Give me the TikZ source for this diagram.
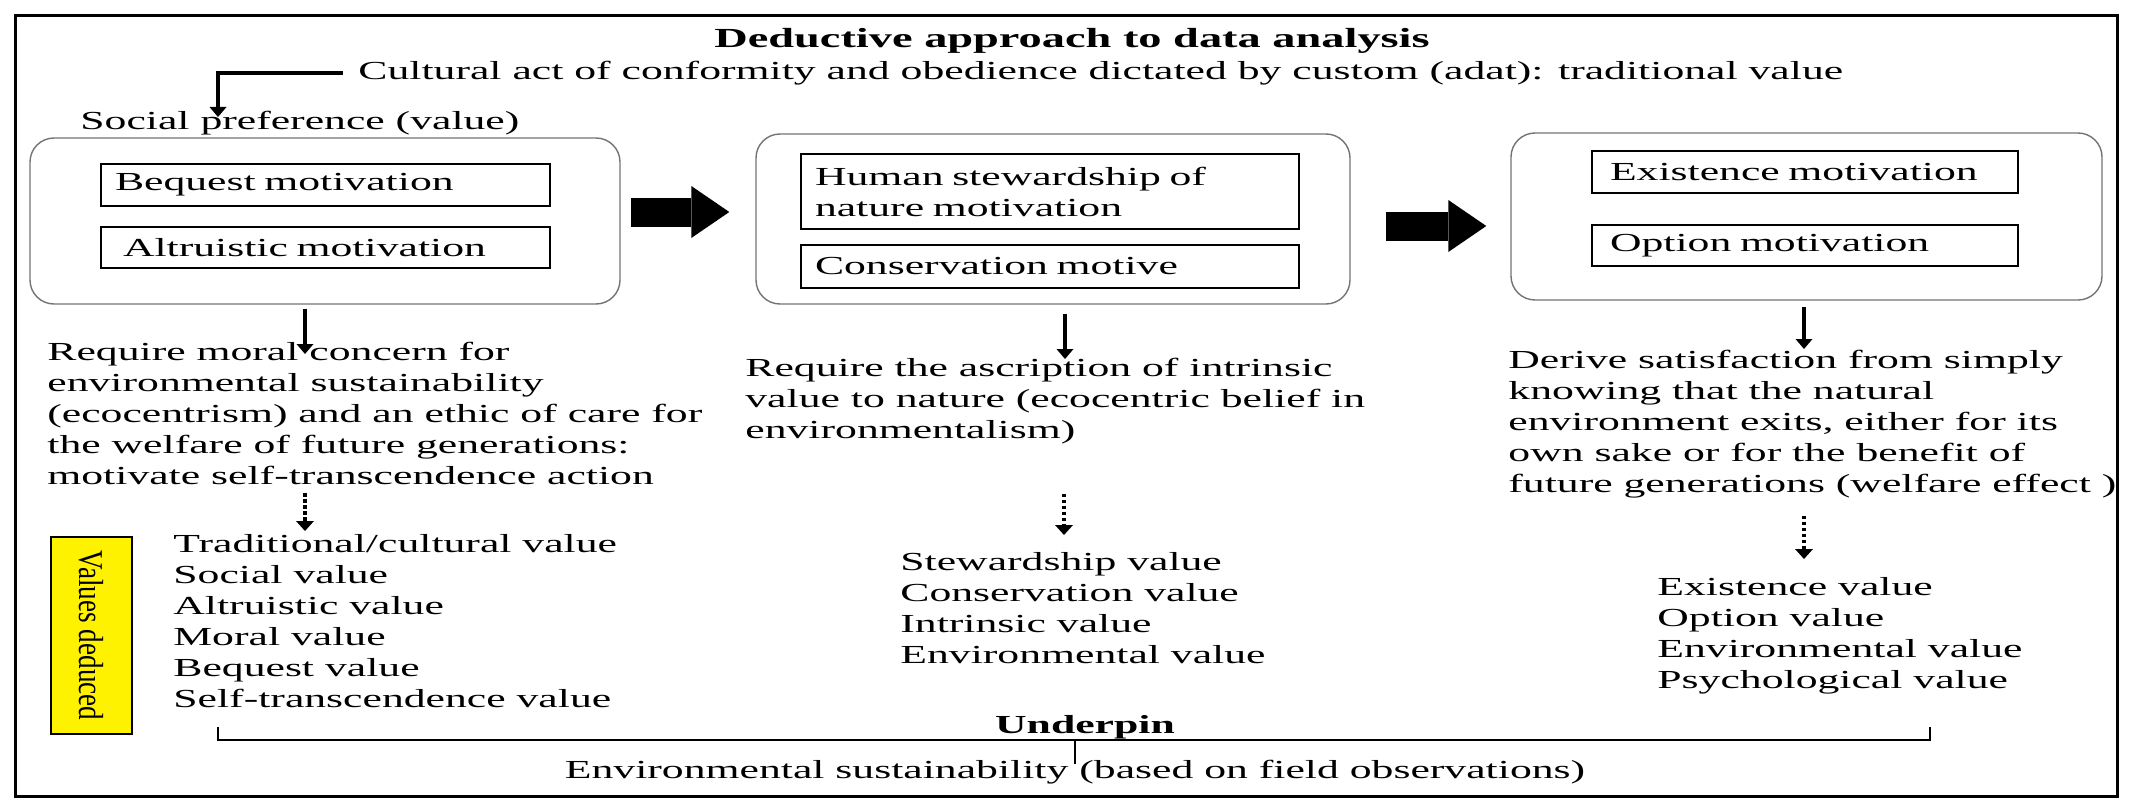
\documentclass[tikz,border=0pt]{standalone}
\usepackage{fontspec}
\setmainfont{Liberation Serif}[FakeStretch=1.68]
\newfontfamily\narrowfont{Liberation Serif}[FakeStretch=0.78]
\usetikzlibrary{arrows.meta}
\newcommand\bodysize{\fontsize{13pt}{15.5pt}\selectfont}

\begin{document}
\begin{tikzpicture}[x=0.5pt,y=-0.5pt,
    every node/.style={font=\bodysize,inner sep=0pt},
    group/.style={draw=black!55,line width=0.7pt,rounded corners=12pt},
    motive/.style={draw,line width=0.6pt,align=left,inner xsep=7pt},
    bigarrow/.style={line width=14.5pt,-{Triangle[length=19pt,width=26pt,line width=0pt]}},
    downarrow/.style={line width=1.6pt,-{Triangle[length=5pt,width=8.5pt,line width=0pt]}},
    dotarrow/.style={line width=2.2pt,dash pattern=on 1.6pt off 1.4pt,-{Triangle[length=5pt,width=9pt,line width=0pt]}},
    textblock/.style={anchor=north west,align=left}]
  \useasboundingbox (0,0) rectangle (2131,808);
  \draw[line width=1.5pt] (15,16) rectangle (2117,796);

  \node[font=\fontsize{13.8pt}{16pt}\selectfont\bfseries] (title) at (1072,41) {Deductive approach to data analysis};
  \node[anchor=west] (cult) at (358,73) {Cultural act of conformity and obedience dictated by custom (adat): traditional value};
  \node[anchor=west] (socpref) at (80,123) {Social preference (value)};
  \coordinate (socin) at (218,117);
  \draw[downarrow] ([xshift=-7.5pt]cult.west) -| (socin);

  % the three groups of motives
  \node[group,minimum width=295pt,minimum height=83pt] (box1) at (325,221) {};
  \node[group,minimum width=297pt,minimum height=85pt] (box2) at (1053,219) {};
  \node[group,minimum width=295.5pt,minimum height=83.5pt] (box3) at (1806.5,216.5) {};
  \node[motive,text width=210.5pt,minimum height=21pt] (beq) at (325.5,185) {Bequest motivation};
  \node[motive,text width=210.5pt,minimum height=20.5pt] (alt) at (325.5,247.5) {\hspace{4pt}Altruistic motivation};
  \node[motive,text width=235pt,minimum height=37.5pt] (hum) at (1050,191.5) {Human stewardship of\\nature motivation};
  \node[motive,text width=235pt,minimum height=21.5pt] (cons) at (1050,266.5) {Conservation motive};
  \node[motive,text width=195pt,inner xsep=9pt,minimum height=21pt] (exi) at (1805,172) {Existence motivation};
  \node[motive,text width=195pt,inner xsep=9pt,minimum height=20.5pt] (opt) at (1805,245.5) {Option motivation};
  \draw[bigarrow] ([xshift=5pt,yshift=4.5pt]box1.east) -- ([xshift=-13pt,yshift=4.5pt]box1.east -| box2.west);
  \draw[bigarrow] ([xshift=17.5pt,yshift=-3.5pt]box2.east) -- ([xshift=-12pt,yshift=-3.5pt]box2.east -| box3.west);

  \node[textblock] (req1) at (47,342) {Require moral concern for\\environmental sustainability\\(ecocentrism) and an ethic of care for\\the welfare of future generations:\\motivate self-transcendence action};
  \node[textblock] (req2) at (745,358) {Require the ascription of intrinsic\\value to nature (ecocentric belief in\\environmentalism)};
  \node[textblock] (req3) at (1508,350) {Derive satisfaction from simply\\knowing that the natural\\environment exits, either for its\\own sake or for the benefit of\\future generations (welfare effect )};
  \coordinate (in1) at (305,354);
  \coordinate (in2) at (1065,359);
  \coordinate (in3) at (1804,349);
  \draw[downarrow] ([yshift=-2pt]box1.south -| in1) -- (in1);
  \draw[downarrow] ([yshift=-4.5pt]box2.south -| in2) -- (in2);
  \draw[downarrow] ([yshift=-3pt]box3.south -| in3) -- (in3);

  \node[textblock] (vals1) at (173,534) {Traditional/cultural value\\Social value\\Altruistic value\\Moral value\\Bequest value\\Self-transcendence value};
  \node[textblock] (vals2) at (900,552) {Stewardship value\\Conservation value\\Intrinsic value\\Environmental value};
  \node[textblock] (vals3) at (1657,577) {Existence value\\Option value\\Environmental value\\Psychological value};
  \coordinate (val1) at (305,531);
  \coordinate (val2) at (1064,535);
  \coordinate (val3) at (1804,559);
  \draw[dotarrow] (req1.south -| val1) ++(0,8) -- (val1);
  \draw[dotarrow] (req2.south -| val2) ++(0,49) -- (val2);
  \draw[dotarrow] (req3.south -| val3) ++(0,17) -- (val3);

  \node[draw,fill=yellow,line width=0.7pt,rotate=-90,minimum width=98.5pt,minimum height=40.5pt,
    font=\narrowfont\fontsize{17.4pt}{20pt}\selectfont] (deduced) at (91.5,635.5) {Values deduced};

  \coordinate (brl) at (218,727);
  \coordinate (brr) at (1930,727);
  \coordinate (brc) at (1075,740);
  \draw[line width=1.4pt] (brl) -- ++(0,13) -| (brr);
  \node[font=\bodysize\bfseries,anchor=base] (under) at (1085,733) {Underpin};
  \node (env) at (1075,772) {Environmental sustainability (based on field observations)};
  \draw[line width=1.4pt] (brc) -- ([yshift=-2pt]env.north);
\end{tikzpicture}
\end{document}
